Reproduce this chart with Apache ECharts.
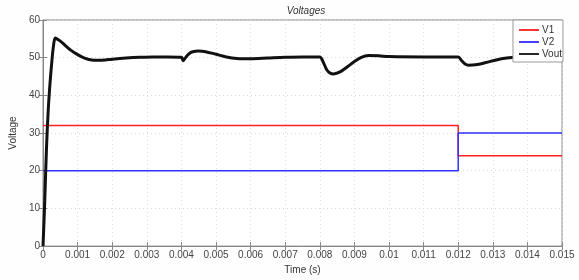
<!DOCTYPE html>
<html><head><meta charset="utf-8">
<script src="https://cdn.jsdelivr.net/npm/echarts@6/dist/echarts.min.js"></script>
<style>html,body{margin:0;padding:0;background:#fefefe}#c{width:579px;height:280px}</style>
</head><body><div id="c"></div>
<script>
const xTicks = [0,0.001,0.002,0.003,0.004,0.005,0.006,0.007,0.008,0.009,0.01,0.011,0.012,0.013,0.014,0.015];
const yTicks = [0,10,20,30,40,50,60];
const stepTime = [0, 0.012, 0.012, 0.015];
const v1Values = [32, 32, 24, 24];
const v2Values = [20, 20, 30, 30];
const voutTime = [0,0.00005,0.0001,0.00015,0.0002,0.00025,0.0003,0.00035,0.0004,0.0005,0.0006,0.0008,0.001,0.0012,0.0014,0.0016,0.0018,0.002,0.0024,0.0028,0.0032,0.0036,0.004,0.00405,0.0041,0.0042,0.0043,0.0045,0.0047,0.005,0.0053,0.0056,0.006,0.0065,0.007,0.0075,0.008,0.0081,0.0082,0.0083,0.0084,0.0086,0.0088,0.009,0.0092,0.0094,0.0097,0.010,0.011,0.012,0.0121,0.0122,0.0123,0.0125,0.0128,0.0131,0.0134,0.0137,0.014,0.0145,0.015];
const voutValues = [0,12,26,36,43,48.5,53,55.2,55,54.4,53.6,52,50.8,49.9,49.4,49.3,49.4,49.6,49.9,50.1,50.2,50.2,50.1,49.2,49.8,50.9,51.5,51.8,51.6,50.9,50.2,49.8,49.7,49.9,50.1,50.2,50.2,48.8,46.8,45.9,45.7,46.3,47.6,49.0,50.1,50.6,50.5,50.3,50.2,50.2,49.2,48.3,48.0,48.1,48.7,49.4,49.9,50.2,50.3,50.4,50.5];

const zip = (a, b) => a.map((t, i) => [t, b[i]]);
const fmtX = v => { const s = (+v).toFixed(3); return Math.abs(v) < 1e-9 ? '0' : s.replace(/0+$/, '').replace(/\.$/, ''); };
const font = 'Liberation Sans, Arial, sans-serif';
const chart = echarts.init(document.getElementById('c'), null, {renderer: 'canvas'});
const gridLine = {show: true, lineStyle: {color: '#dadada', type: [1, 3], width: 1}};
const lineIcon = 'path://M0,0h22v2h-22z';
chart.setOption({
  backgroundColor: '#fefefe',
  animation: false,
  title: {text: 'Voltages', left: 301, textAlign: 'center', top: 1,
    textStyle: {fontSize: 10, fontStyle: 'italic', fontWeight: 'normal', color: '#333', fontFamily: font}},
  legend: {right: 16, top: 20, orient: 'vertical', itemGap: 2, itemWidth: 20, itemHeight: 10,
    backgroundColor: '#fff', borderColor: '#999', borderWidth: 1, padding: [5, 1, 3, 6],
    symbolKeepAspect: true,
    textStyle: {fontSize: 10, color: '#333', fontFamily: font, padding: [0, 0, 0, -2]},
    data: [{name: 'V1', icon: lineIcon}, {name: 'V2', icon: lineIcon}, {name: 'Vout', icon: lineIcon}]},
  grid: {left: 40, right: 17, top: 20, bottom: 27, show: true, borderColor: '#888', borderWidth: 1, backgroundColor: '#fff'},
  xAxis: [{type: 'value', min: 0, max: 0.015, interval: 0.001,
    name: 'Time (s)', nameLocation: 'middle', nameGap: 16,
    nameTextStyle: {fontSize: 10, color: '#333', fontFamily: font},
    axisLine: {lineStyle: {color: '#888'}}, axisTick: {inside: true, length: 4, lineStyle: {color: '#888'}},
    axisLabel: {fontSize: 10, color: '#444', fontFamily: font, margin: 4, formatter: fmtX},
    splitLine: gridLine},
    {type: 'value', position: 'top', min: 0, max: 0.015, interval: 0.001,
    axisLine: {show: false}, axisTick: {inside: true, length: 4, lineStyle: {color: '#888'}}, axisLabel: {show: false}, splitLine: {show: false}}],
  yAxis: [{type: 'value', min: 0, max: 60, interval: 10,
    name: 'Voltage', nameLocation: 'middle', nameGap: 18,
    nameTextStyle: {fontSize: 10, color: '#333', fontFamily: font},
    axisLine: {show: true, lineStyle: {color: '#888'}}, axisTick: {show: true, inside: true, length: 4, lineStyle: {color: '#888'}},
    axisLabel: {fontSize: 10, color: '#444', fontFamily: font, margin: 3},
    splitLine: gridLine},
    {type: 'value', position: 'right', min: 0, max: 60, interval: 10,
    axisLine: {show: false}, axisTick: {show: true, inside: true, length: 4, lineStyle: {color: '#888'}}, axisLabel: {show: false}, splitLine: {show: false}}],
  series: [
    {name: 'V1', type: 'line', data: zip(stepTime, v1Values), showSymbol: false, symbol: 'none', color: '#ff2020', lineStyle: {width: 1.5, color: '#ff2020'}},
    {name: 'V2', type: 'line', data: zip(stepTime, v2Values), showSymbol: false, symbol: 'none', color: '#3030ff', lineStyle: {width: 1.5, color: '#3030ff'}},
    {name: 'Vout', type: 'line', data: zip(voutTime, voutValues), smooth: 0.3, showSymbol: false, symbol: 'none', color: '#111', lineStyle: {width: 3, color: '#111'}}
  ]
});
</script></body></html>
